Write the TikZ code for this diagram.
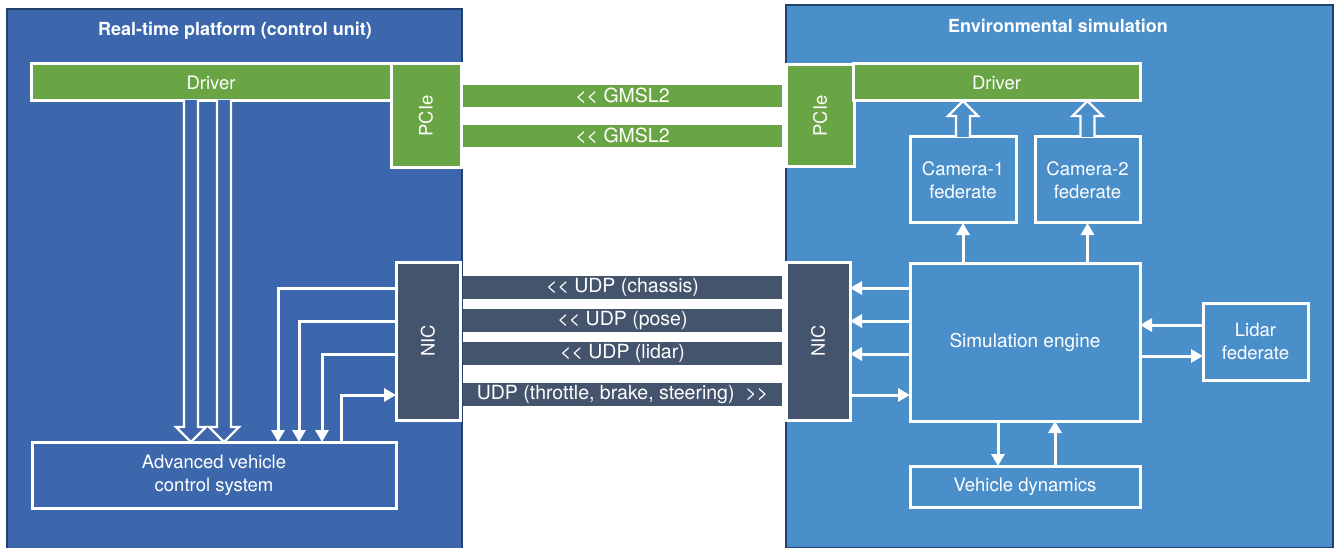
\documentclass[tikz,border=0pt]{standalone}
\usepackage{fontspec}
\setmainfont{TeX Gyre Heros}
\usetikzlibrary{arrows.meta,calc}

\definecolor{rtblue}{HTML}{3D67AD}
\definecolor{envblue}{HTML}{4B8FCA}
\definecolor{busgreen}{HTML}{69A544}
\definecolor{nicslate}{HTML}{45546D}
\definecolor{paneledge}{HTML}{23406F}

\tikzset{
  panel/.style={draw=paneledge, line width=1.2pt, anchor=north west, inner sep=0pt, outer sep=0pt},
  paneltitle/.style={text=white, font=\fontsize{18}{21}\selectfont\bfseries},
  wbox/.style={draw=white, line width=3pt, anchor=north west, inner sep=0pt, outer sep=0pt,
               text=white, align=center, font=\fontsize{18.5}{23}\selectfont},
  greenbox/.style={wbox, fill=busgreen},
  nicbox/.style={wbox, fill=nicslate},
  link/.style={anchor=north west, inner sep=0pt, outer sep=0pt, text=white,
               font=\fontsize{19.5}{22}\selectfont},
  arr/.style={draw=white, line width=3pt, -{Triangle[length=12pt,width=13pt]}},
  hollow/.style={draw=white, line width=2.2pt, line join=miter},
}

% Hollow (outlined) block arrow running vertically from #2 to the tip at #3
\newcommand\hollowarrow[3][rtblue]{%
  \filldraw[hollow, fill=#1] let \p1=(#2), \p2=(#3), \n1={sign(\y2-\y1)} in
    (\x1-7pt,\y1) -- (\x1-7pt,\y2-\n1*15pt) -- (\x1-15pt,\y2-\n1*15pt) -- (\x2,\y2)
    -- (\x1+15pt,\y2-\n1*15pt) -- (\x1+7pt,\y2-\n1*15pt) -- (\x1+7pt,\y1);}

\begin{document}
\begin{tikzpicture}[x=1pt, y=-1pt]
\useasboundingbox[fill=white] (0,0) rectangle (1341,548);

% ---------------- panels
\node[panel, fill=rtblue, minimum width=455, minimum height=545] (rt) at (7,9) {};
\node[panel, fill=envblue, minimum width=547, minimum height=543] (env) at (786,5) {};
\node[paneltitle] (rttitle) at (235,31) {Real-time platform (control unit)};
\node[paneltitle] (envtitle) at (1058,26) {Environmental simulation};

% ---------------- PCIe / driver side
\node[greenbox, minimum width=360, minimum height=37] (drvL) at (31,64) {Driver};
\node[greenbox, minimum width=70, minimum height=104] (pcieL) at (391,64) {\rotatebox{90}{PCIe}};
\node[greenbox, minimum width=68, minimum height=102] (pcieR) at (786,65) {\rotatebox{90}{PCIe}};
\node[greenbox, minimum width=287, minimum height=37] (drvR) at (853,64) {Driver};

\node[link, fill=busgreen, minimum width=319, minimum height=22] (gmsl1) at (463,85) {{<}{<} GMSL2};
\node[link, fill=busgreen, minimum width=319, minimum height=22] (gmsl2) at (463,125) {{<}{<} GMSL2};

% ---------------- network side
\node[nicbox, minimum width=64, minimum height=158] (nicL) at (396,262) {\rotatebox{90}{NIC}};
\node[nicbox, minimum width=64, minimum height=158] (nicR) at (786,262) {\rotatebox{90}{NIC}};

\node[link, fill=nicslate, minimum width=319, minimum height=23] (udp1) at (463,276) {{<}{<} UDP (chassis)};
\node[link, fill=nicslate, minimum width=319, minimum height=23] (udp2) at (463,309) {{<}{<} UDP (pose)};
\node[link, fill=nicslate, minimum width=319, minimum height=23] (udp3) at (463,342) {{<}{<} UDP (lidar)};
\node[link, fill=nicslate, minimum width=319, minimum height=23] (udp4) at (463,383) {UDP (throttle, brake, steering)~~{>}{>}};

% ---------------- control unit
\node[wbox, minimum width=364, minimum height=66] (avcs) at (32,442) {Advanced vehicle\\control system};

% ---------------- simulation side
\node[wbox, minimum width=106, minimum height=86] (cam1) at (910,137) {Camera-1\\federate};
\node[wbox, minimum width=105, minimum height=86] (cam2) at (1035,137) {Camera-2\\federate};
\node[wbox, minimum width=230, minimum height=158, font=\fontsize{19}{23}\selectfont] (sim) at (910,263) {Simulation engine};
\node[wbox, minimum width=105, minimum height=77] (lidar) at (1203,303) {Lidar\\federate};
\node[wbox, minimum width=230, minimum height=41] (vdyn) at (910,466) {Vehicle dynamics};

% ---------------- hollow arrows (driver data paths)
\coordinate (hl1) at (191,100);
\coordinate (hl2) at (224,100);
\hollowarrow{hl1}{hl1 |- avcs.north}
\hollowarrow{hl2}{hl2 |- avcs.north}
\hollowarrow[envblue]{cam1.north}{cam1.north |- drvR.south}
\hollowarrow[envblue]{cam2.north}{cam2.north |- drvR.south}

% ---------------- control unit <-> NIC
\draw[arr] (nicL.west |- 0,288) -| (278,0 |- avcs.north);
\draw[arr] (nicL.west |- 0,321) -| (299,0 |- avcs.north);
\draw[arr] (nicL.west |- 0,354) -| (322,0 |- avcs.north);
\draw[arr] (341,0 |- avcs.north) |- (nicL.west |- 0,395);

% ---------------- simulation engine <-> NIC
\draw[arr] (sim.west |- 0,288) -- (nicR.east |- 0,288);
\draw[arr] (sim.west |- 0,321) -- (nicR.east |- 0,321);
\draw[arr] (sim.west |- 0,354) -- (nicR.east |- 0,354);
\draw[arr] (nicR.east |- 0,395) -- (sim.west |- 0,395);

% ---------------- simulation engine <-> federates
\draw[arr] (cam1.south |- sim.north) -- (cam1.south);
\draw[arr] (cam2.south |- sim.north) -- (cam2.south);
\draw[arr] (lidar.west |- 0,325) -- (sim.east |- 0,325);
\draw[arr] (sim.east |- 0,356) -- (lidar.west |- 0,356);
\draw[arr] (998,0 |- sim.south) -- (998,0 |- vdyn.north);
\draw[arr] (1055,0 |- vdyn.north) -- (1055,0 |- sim.south);
\end{tikzpicture}
\end{document}
